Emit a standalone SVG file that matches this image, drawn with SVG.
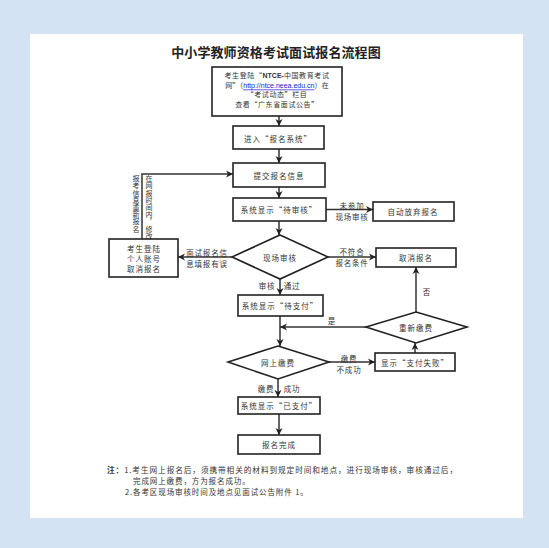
<svg xmlns="http://www.w3.org/2000/svg" width="549" height="548" viewBox="0 0 549 548">
<style>
text{font-family:"Noto Sans CJK SC","Noto Sans",sans-serif;fill:#333;dominant-baseline:central}
.t{font-size:7.5px;text-anchor:middle;letter-spacing:1px}
.b1{font-size:7px;text-anchor:middle;letter-spacing:0.6px}
.l{font-size:7.5px;text-anchor:middle;letter-spacing:0.8px}
.v{font-size:7px;writing-mode:vertical-rl;text-orientation:upright;letter-spacing:0.2px}
.box{fill:#fff;stroke:#222;stroke-width:1.6}
.c{fill:none;stroke:#333;stroke-width:1.5}
.n{font-size:7.5px;letter-spacing:0.9px}
</style>
<defs>
<marker id="a" markerUnits="userSpaceOnUse" markerWidth="8" markerHeight="8" refX="7" refY="4" orient="auto">
<path d="M0,0.5 L7,4 L0,7.5 L2,4 Z" fill="#222"/>
</marker>
</defs>
<rect width="549" height="548" fill="#d3e3f3"/>
<rect x="30" y="34" width="493" height="484" fill="#fff"/>
<text x="276" y="51" style="font-size:13px;font-weight:bold;text-anchor:middle;fill:#222;letter-spacing:0.1px">中小学教师资格考试面试报名流程图</text>

<g id="connectors">
<path class="c" d="M279,116 V126" marker-end="url(#a)"/>
<path class="c" d="M279,149 V163" marker-end="url(#a)"/>
<path class="c" d="M279,187 V198" marker-end="url(#a)"/>
<path class="c" d="M279,221 V235" marker-end="url(#a)"/>
<path class="c" d="M280,279 V295" marker-end="url(#a)"/>
<path class="c" d="M280,316 V346" marker-end="url(#a)"/>
<path class="c" d="M278,379 V397" marker-end="url(#a)"/>
<path class="c" d="M279,414 V435" marker-end="url(#a)"/>
<path class="c" d="M326,209.5 H373" marker-end="url(#a)"/>
<path class="c" d="M328,257 H376" marker-end="url(#a)"/>
<path class="c" d="M232,257 H178" marker-end="url(#a)"/>
<path class="c" d="M142,239 V174 H233" marker-end="url(#a)"/>
<path class="c" d="M329,362 H375" marker-end="url(#a)"/>
<path class="c" d="M415,353 V343" marker-end="url(#a)"/>
<path class="c" d="M416,312 V267" marker-end="url(#a)"/>
<path class="c" d="M366,327 H280" marker-end="url(#a)"/>
<text class="l" x="352" y="205">未参加</text>
<text class="l" x="352" y="216">现场审核</text>
<text class="l" x="352" y="251">不符合</text>
<text class="l" x="352" y="262">报名条件</text>
<text class="l" x="207" y="252">面试报名信</text>
<text class="l" x="207" y="263">息填报有误</text>
<text class="l" x="427" y="291">否</text>
<text class="l" x="332" y="320">是</text>
<text class="l" x="349" y="358">缴费</text>
<text class="l" x="349" y="369">不成功</text>
<text class="l" x="267" y="285">审核</text>
<text class="l" x="292" y="285">通过</text>
<text class="l" x="266" y="388">缴费</text>
<text class="l" x="292" y="388">成功</text>
<text class="v" x="149" y="175">在网报时间内，修改</text>
<text class="v" x="136" y="175">报考信息重新报名</text>
</g>

<g id="n1">
<rect class="box" x="212" y="67" width="130" height="49"/>
<text class="b1" x="277" y="75">考生登陆“<tspan style="font-family:'Liberation Sans',sans-serif;font-weight:bold;letter-spacing:0">NTCE-</tspan>中国教育考试</text>
<text class="b1" x="277" y="84.5" style="letter-spacing:0.2px">网”（<tspan style="font-family:'Liberation Sans',sans-serif;fill:#1a1ad6;text-decoration:underline;letter-spacing:0">http://ntce.neea.edu.cn</tspan>）在</text>
<text class="b1" x="277" y="94">“考试动态”栏目</text>
<text class="b1" x="277" y="103.5">查看“广东省面试公告”</text>
</g>
<g id="n2"><rect class="box" x="233" y="126" width="91" height="23"/><text class="t" x="278" y="138">进入“报名系统”</text></g>
<g id="n3"><rect class="box" x="233" y="163" width="92" height="24"/><text class="t" x="279" y="175">提交报名信息</text></g>
<g id="n4"><rect class="box" x="233" y="198" width="93" height="23"/><text class="t" x="279" y="209.5">系统显示“待审核”</text></g>
<g id="n5"><path class="box" d="M280,235 L328,257 L280,279 L232,257 Z"/><text class="t" x="280" y="257">现场审核</text></g>
<g id="n6"><rect class="box" x="109" y="239" width="69" height="38"/>
<text class="t" x="144" y="248">考生登陆</text><text class="t" x="144" y="258">个人账号</text><text class="t" x="144" y="268">取消报名</text></g>
<g id="n7"><rect class="box" x="373" y="202" width="81" height="19"/><text class="t" x="413" y="211.5">自动放弃报名</text></g>
<g id="n8"><rect class="box" x="376" y="248" width="80" height="19"/><text class="t" x="416" y="257.5">取消报名</text></g>
<g id="n9"><rect class="box" x="238" y="295" width="85" height="21"/><text class="t" x="280" y="305.5">系统显示“待支付”</text></g>
<g id="n10"><path class="box" d="M416,312 L467,327 L416,343 L366,327 Z"/><text class="t" x="416" y="327">重新缴费</text></g>
<g id="n11"><path class="box" d="M278,346 L329,362 L278,379 L228,362 Z"/><text class="t" x="278" y="362">网上缴费</text></g>
<g id="n12"><rect class="box" x="375" y="353" width="80" height="18"/><text class="t" x="415" y="362">显示“支付失败”</text></g>
<g id="n13"><rect class="box" x="238" y="397" width="82" height="17"/><text class="t" x="279" y="405.5">系统显示“已支付”</text></g>
<g id="n14"><rect class="box" x="238" y="435" width="82" height="19"/><text class="t" x="279" y="444.5">报名完成</text></g>

<text class="n" x="107" y="469" textLength="351" lengthAdjust="spacingAndGlyphs"><tspan style="font-weight:bold">注：</tspan>1.考生网上报名后，须携带相关的材料到规定时间和地点，进行现场审核，审核通过后，</text>
<text class="n" x="133" y="480">完成网上缴费，方为报名成功。</text>
<text class="n" x="125" y="491">2.各考区现场审核时间及地点见面试公告附件 1。</text>
</svg>
